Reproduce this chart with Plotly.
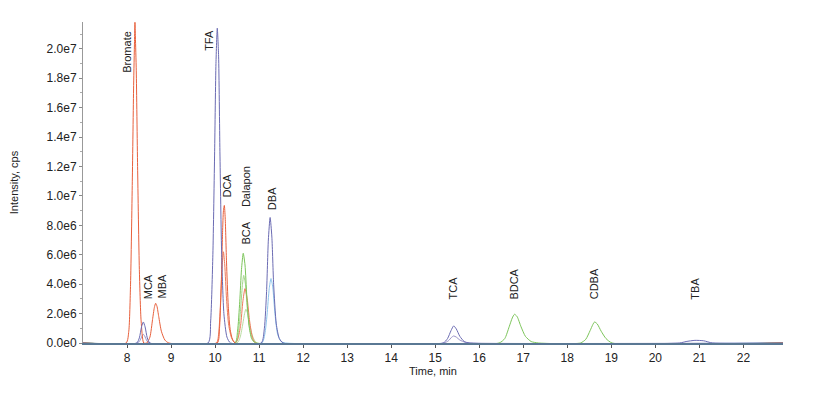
import plotly.graph_objects as go

# ---- data (time in min, intensity in cps) ----
x_ticks = [8, 9, 10, 11, 12, 13, 14, 15, 16, 17, 18, 19, 20, 21, 22]
y_tickvals = [0, 2e6, 4e6, 6e6, 8e6, 1e7, 1.2e7, 1.4e7, 1.6e7, 1.8e7, 2.0e7]
y_ticktext = ["0.0e0", "2.0e6", "4.0e6", "6.0e6", "8.0e6", "1.0e7", "1.2e7",
              "1.4e7", "1.6e7", "1.8e7", "2.0e7"]

# red traces
red1_t = [7.0, 7.98, 8.04, 8.08, 8.12, 8.15, 8.17, 8.18, 8.19, 8.21, 8.24, 8.28, 8.32, 8.38,
          8.45, 8.52, 8.58, 8.62, 8.65, 8.68, 8.72, 8.78, 8.86, 8.95,
          10.05, 10.10, 10.14, 10.17, 10.19, 10.21, 10.23, 10.26, 10.30, 10.35, 10.45, 22.9]
red1_v = [0, 0, 0.8e6, 4.0e6, 11.0e6, 17.5e6, 20.5e6, 21.8e6, 20.8e6, 18.5e6, 12.0e6, 5.0e6, 1.5e6, 0,
          0, 0.4e6, 1.6e6, 2.4e6, 2.7e6, 2.5e6, 1.8e6, 0.8e6, 0.2e6, 0,
          0, 1.0e6, 4.0e6, 7.5e6, 9.0e6, 9.35e6, 8.5e6, 5.5e6, 2.5e6, 0.8e6, 0, 0]

red2_t = [7.0, 10.03, 10.08, 10.12, 10.16, 10.19, 10.22, 10.26, 10.31, 10.38, 10.46,
          10.52, 10.58, 10.63, 10.68, 10.73, 10.78, 10.84, 10.92, 22.9]
red2_v = [0, 0, 0.6e6, 2.5e6, 5.2e6, 6.2e6, 5.3e6, 3.0e6, 1.2e6, 0.3e6, 0,
          0.3e6, 1.2e6, 2.8e6, 3.7e6, 3.0e6, 1.6e6, 0.5e6, 0, 0]

# dark blue traces
blue1_t = [7.0, 8.22, 8.28, 8.33, 8.37, 8.41, 8.46, 8.52,
           9.84, 9.90, 9.95, 9.99, 10.02, 10.05, 10.08, 10.11, 10.15, 10.20, 10.27, 10.35,
           11.05, 11.12, 11.17, 11.21, 11.25, 11.29, 11.33, 11.39, 11.46, 11.55,
           15.18, 15.28, 15.36, 15.42, 15.48, 15.56, 15.66, 15.78,
           20.55, 20.7, 20.9, 21.1, 21.3, 22.9]
blue1_v = [0, 0, 0.35e6, 1.1e6, 1.43e6, 1.1e6, 0.35e6, 0,
           0, 1.5e6, 6.0e6, 13.0e6, 19.0e6, 21.4e6, 19.5e6, 13.0e6, 6.0e6, 2.0e6, 0.4e6, 0,
           0, 1.0e6, 3.5e6, 7.0e6, 8.53e6, 7.2e6, 4.0e6, 1.3e6, 0.3e6, 0,
           0, 0.3e6, 0.85e6, 1.16e6, 0.95e6, 0.45e6, 0.1e6, 0,
           0, 0.1e6, 0.18e6, 0.15e6, 0, 0]

blue2_t = [7.0, 8.24, 8.30, 8.34, 8.37, 8.40, 8.45, 8.50,
           15.2, 15.30, 15.37, 15.42, 15.48, 15.56, 15.68, 15.8, 22.9]
blue2_v = [0, 0, 0.2e6, 0.48e6, 0.59e6, 0.48e6, 0.15e6, 0,
           0, 0.15e6, 0.38e6, 0.48e6, 0.4e6, 0.2e6, 0.05e6, 0, 0]

# light blue trace
lblue_t = [7.0, 11.06, 11.13, 11.18, 11.23, 11.27, 11.31, 11.36, 11.42, 11.5, 11.6, 22.9]
lblue_v = [0, 0, 0.6e6, 1.9e6, 3.7e6, 4.38e6, 3.8e6, 2.0e6, 0.6e6, 0.1e6, 0, 0]

# green traces
green1_t = [7.0, 10.45, 10.51, 10.56, 10.60, 10.64, 10.68, 10.72, 10.77, 10.83, 10.92,
            16.45, 16.58, 16.68, 16.75, 16.80, 16.86, 16.95, 17.05, 17.18, 17.35,
            18.3, 18.42, 18.52, 18.58, 18.62, 18.68, 18.77, 18.88, 19.02, 22.9]
green1_v = [0, 0, 0.8e6, 2.8e6, 5.0e6, 6.1e6, 5.3e6, 3.2e6, 1.2e6, 0.3e6, 0,
            0, 0.3e6, 1.1e6, 1.7e6, 1.95e6, 1.8e6, 1.1e6, 0.45e6, 0.1e6, 0,
            0, 0.25e6, 0.85e6, 1.25e6, 1.43e6, 1.3e6, 0.8e6, 0.3e6, 0, 0]

green2_t = [7.0, 10.47, 10.53, 10.58, 10.62, 10.65, 10.69, 10.73, 10.79, 10.86, 10.95, 22.9]
green2_v = [0, 0, 0.7e6, 2.3e6, 3.9e6, 4.6e6, 4.0e6, 2.4e6, 0.9e6, 0.2e6, 0, 0]

green3_t = [7.0, 10.5, 10.57, 10.63, 10.67, 10.70, 10.74, 10.79, 10.86, 10.95, 22.9]
green3_v = [0, 0, 0.4e6, 1.3e6, 2.0e6, 2.3e6, 2.0e6, 1.2e6, 0.4e6, 0, 0]

# peak labels
label_text = ["Bromate", "MCA", "MBA", "TFA", "DCA", "Dalapon", "BCA", "DBA",
              "TCA", "BDCA", "CDBA", "TBA"]
label_t = [8.0, 8.48, 8.80, 9.86, 10.27, 10.70, 10.70, 11.30, 15.41, 16.80, 18.61, 20.91]
label_v = [19.8e6, 3.8e6, 3.86e6, 20.6e6, 10.7e6, 10.66e6, 7.5e6, 9.8e6,
           3.72e6, 4.0e6, 4.0e6, 3.72e6]

RED = "#e8603c"
RED2 = "#ee7a5a"
BLUE = "#6b6bb3"
BLUE2 = "#9a93c8"
LBLUE = "#8cc4ec"
GREEN = "#7cc55a"
GREEN2 = "#a3d68a"
GREEN3 = "#b8dca0"

fig = go.Figure()
series = [
    (green3_t, green3_v, GREEN3),
    (green2_t, green2_v, GREEN2),
    (lblue_t, lblue_v, LBLUE),
    (blue2_t, blue2_v, BLUE2),
    (red2_t, red2_v, RED2),
    (green1_t, green1_v, GREEN),
    (red1_t, red1_v, RED),
    (blue1_t, blue1_v, BLUE),
]
for t, v, c in series:
    fig.add_trace(go.Scatter(x=t, y=v, mode="lines", line=dict(color=c, width=1,
                             shape="spline", smoothing=0.6),
                             showlegend=False, hoverinfo="skip", cliponaxis=False))

for txt, t, v in zip(label_text, label_t, label_v):
    fig.add_annotation(x=t, y=v, text=txt, textangle=-90, showarrow=False,
                       font=dict(family="Liberation Sans, Arial", size=11, color="#222222"))

fig.update_layout(
    width=829, height=396,
    margin=dict(l=83, r=46, t=22, b=53),
    plot_bgcolor="white", paper_bgcolor="white",
    font=dict(family="Liberation Sans, Arial", size=11, color="#222222"),
    xaxis=dict(range=[7.0, 22.9], tickvals=x_ticks, ticks="outside", ticklen=3,
               tickcolor="#555555", showgrid=False, zeroline=False, automargin=False,
               showline=True, linecolor="#5a7894", linewidth=2,
               title=dict(text="Time, min", font=dict(size=11), standoff=0),
               tickfont=dict(size=12)),
    yaxis=dict(range=[0, 2.182e7], tickvals=y_tickvals, ticktext=y_ticktext,
               ticks="outside", ticklen=3, tickcolor="#888888", automargin=False,
               minor=dict(ticks="outside", ticklen=2, dtick=1e6, tickcolor="#aaaaaa"),
               showgrid=False, zeroline=False, showline=True,
               linecolor="#999999", linewidth=1,
               title=dict(text="Intensity, cps", font=dict(size=11), standoff=25),
               tickfont=dict(size=12)),
)

fig.write_html("out.html", config={"displayModeBar": False},
               post_script="document.body.style.margin='0';document.body.style.padding='0';")
